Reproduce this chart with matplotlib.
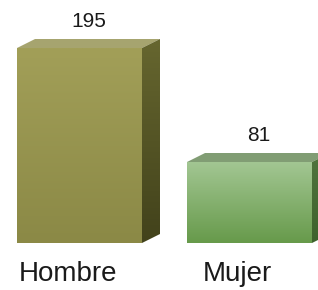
import matplotlib
matplotlib.use('Agg')
import matplotlib.pyplot as plt
import numpy as np
from matplotlib.patches import Polygon
from matplotlib.colors import LinearSegmentedColormap

plt.rcParams['font.family'] = ['Liberation Sans', 'DejaVu Sans']

categories = ['Hombre', 'Mujer']
values = [195, 81]
front_top = ['#a29f58', '#a2c692']
front_bottom = ['#8b8946', '#679a4b']
top_colors = ['#a6a46f', '#819d74']
side_top = ['#66662f', '#50743e']
side_bottom = ['#42421b', '#3e622c']

fig = plt.figure(figsize=(3.18, 2.90), dpi=100)
ax = fig.add_axes([0, 0, 1, 1])

width = 0.735
dx = 0.106   # depth offset in x units
dy = 9       # depth offset in value units

xs = np.arange(len(categories))
bars = ax.bar(xs, values, width=width, color='none', edgecolor='none')
grad = np.linspace(0, 1, 100).reshape(-1, 1)

for i, (b, v) in enumerate(zip(bars, values)):
    x0 = b.get_x()
    x1 = x0 + b.get_width()
    # front face with vertical gradient
    cmap = LinearSegmentedColormap.from_list('f', [front_bottom[i], front_top[i]])
    im = ax.imshow(grad, cmap=cmap, extent=(x0, x1, 0, v), origin='lower',
                   aspect='auto', zorder=2)
    im.set_clip_path(b)
    # top face
    ax.add_patch(Polygon([(x0, v), (x0 + dx, v + dy), (x1 + dx, v + dy), (x1, v)],
                         closed=True, facecolor=top_colors[i], edgecolor='none', zorder=3))
    # side face with gradient
    side = Polygon([(x1, 0), (x1, v), (x1 + dx, v + dy), (x1 + dx, dy)],
                   closed=True, facecolor='none', edgecolor='none', zorder=3)
    ax.add_patch(side)
    cmap_s = LinearSegmentedColormap.from_list('s', [side_bottom[i], side_top[i]])
    ims = ax.imshow(grad, cmap=cmap_s, extent=(x1, x1 + dx, 0, v + dy), origin='lower',
                    aspect='auto', zorder=3)
    ims.set_clip_path(side)
    # value label
    ax.text(xs[i] + dx / 2, v + dy + 12, str(v), ha='center', va='baseline',
            fontsize=15, color='#1a1a1a')
    # category label
    ax.text(xs[i] - 0.07, -38, categories[i], ha='center', va='baseline',
            fontsize=20, color='#1a1a1a')

ax.set_xlim(-0.4676, 1.4029)
ax.set_ylim(-47, 243)
ax.axis('off')
fig.savefig('out.png', dpi=100)
